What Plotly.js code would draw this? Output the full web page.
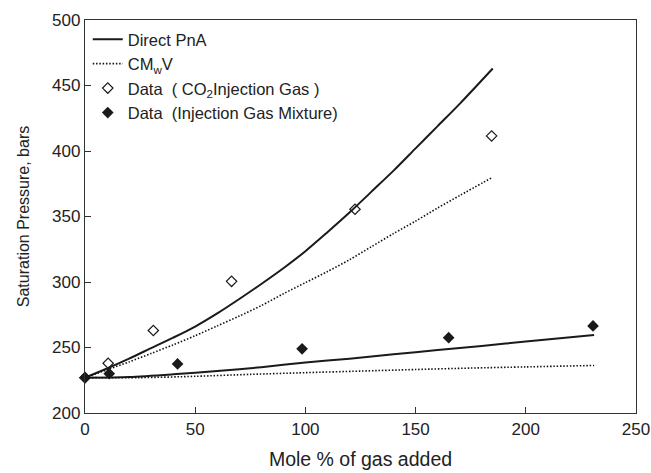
<!DOCTYPE html>
<html>
<head>
<meta charset="utf-8">
<script src="https://cdn.plot.ly/plotly-3.0.1.min.js"></script>
<style>html,body{margin:0;padding:0;background:#fff;}#chart{width:651px;height:473px;}</style>
</head>
<body>
<div id="chart"></div>
<script>
// Direct PnA, CO2 injection gas (upper solid)
const pnaCO2X = [0, 10, 20, 30, 40, 50, 60, 70, 80, 90, 100, 110, 120, 130, 140, 150, 160, 170, 185];
const pnaCO2Y = [227, 234, 241.5, 249.5, 257.5, 266, 276, 287, 298.5, 310.5, 323.5, 338, 353, 369, 385, 402, 419, 436, 463];
// CMwV, CO2 injection gas (upper dotted)
const cmwvCO2X = [0, 10, 20, 30, 40, 50, 60, 70, 80, 90, 100, 110, 120, 130, 140, 150, 160, 170, 185];
const cmwvCO2Y = [227, 233, 239, 245.5, 252, 259, 266.5, 274, 282, 291, 299.5, 308, 317, 327, 337, 346.5, 356.5, 366, 380];
// Direct PnA, injection gas mixture (lower solid)
const pnaMixX = [0, 20, 40, 60, 80, 100, 120, 140, 160, 180, 200, 231];
const pnaMixY = [227, 227.5, 229.5, 232, 235, 238.5, 241.5, 244.8, 248, 251.2, 254.5, 259.6];
// CMwV, injection gas mixture (lower dotted)
const cmwvMixX = [0, 25, 50, 75, 100, 125, 150, 175, 200, 231];
const cmwvMixY = [227, 227, 228, 229.5, 230.8, 232, 233.2, 234.3, 235.2, 236.3];
// Data: CO2 injection gas (open diamonds)
const dataCO2X = [0, 10.5, 31, 66.5, 122.5, 184.5];
const dataCO2Y = [227, 238, 263, 300.5, 355.5, 411.5];
// Data: injection gas mixture (filled diamonds)
const dataMixX = [0, 11, 42, 98.5, 165, 230.5];
const dataMixY = [227, 230, 237.5, 249, 257.5, 266.5];

const black = '#1a1a1a';
const dotted = {color: '#111', width: 1.6, dash: '1.5px,1.8px', shape: 'spline', smoothing: 0.8};
const solid = {color: black, width: 2, shape: 'spline', smoothing: 0.8};
const traces = [
  {x: pnaCO2X, y: pnaCO2Y, mode: 'lines', name: 'Direct PnA', legendgroup: 'pna', line: solid},
  {x: cmwvCO2X, y: cmwvCO2Y, mode: 'lines', name: 'CM<sub>w</sub>V', legendgroup: 'cmwv', line: dotted},
  {x: dataCO2X, y: dataCO2Y, mode: 'markers', name: 'Data  ( CO<sub>2</sub>Injection Gas )',
   marker: {symbol: 'diamond-open', size: 8, color: black, line: {width: 1.2}}, cliponaxis: false},
  {x: dataMixX, y: dataMixY, mode: 'markers', name: 'Data  (Injection Gas Mixture)',
   marker: {symbol: 'diamond', size: 9, color: black}, cliponaxis: false},
  {x: pnaMixX, y: pnaMixY, mode: 'lines', name: 'Direct PnA', legendgroup: 'pna', showlegend: false, line: solid},
  {x: cmwvMixX, y: cmwvMixY, mode: 'lines', name: 'CM<sub>w</sub>V', legendgroup: 'cmwv', showlegend: false, line: dotted}
];

const layout = {
  width: 651, height: 473,
  margin: {l: 85, r: 15, t: 20, b: 60},
  paper_bgcolor: '#fff', plot_bgcolor: '#fff',
  font: {family: 'Liberation Sans, Arial, sans-serif', color: '#222', size: 17},
  showlegend: true,
  legend: {x: 0.005, y: 0.995, xanchor: 'left', yanchor: 'top', bgcolor: 'rgba(0,0,0,0)',
           font: {size: 16.5, color: '#222'}, tracegroupgap: 0, itemwidth: 30},
  xaxis: {range: [0, 250], tickvals: [0, 50, 100, 150, 200, 250], ticks: 'inside', ticklen: 6,
          tickcolor: '#333', showline: true, linecolor: '#333', linewidth: 1.2, mirror: true,
          showgrid: false, zeroline: false, tickfont: {size: 17},
          title: {text: 'Mole % of gas added', font: {size: 19.5}, standoff: 14}},
  yaxis: {range: [200, 500], tickvals: [200, 250, 300, 350, 400, 450, 500], ticks: 'inside', ticklen: 6,
          tickcolor: '#333', showline: true, linecolor: '#333', linewidth: 1.2, mirror: true,
          showgrid: false, zeroline: false, tickfont: {size: 17},
          title: {text: 'Saturation Pressure, bars', font: {size: 16}, standoff: 18}}
};

Plotly.newPlot('chart', traces, layout, {displayModeBar: false, staticPlot: true});
</script>
</body>
</html>
